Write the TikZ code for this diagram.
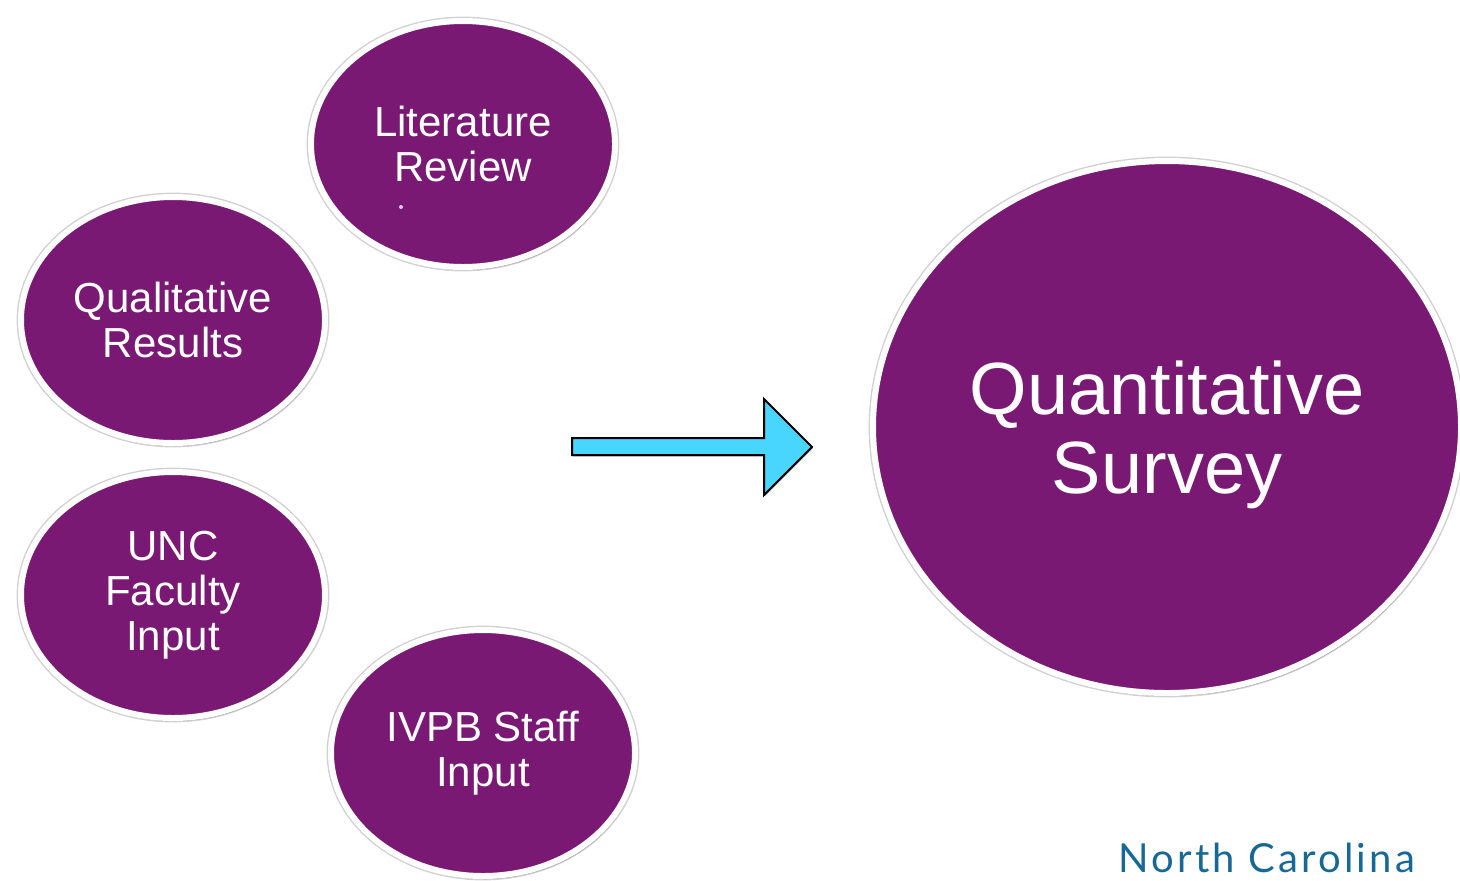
\documentclass[tikz,border=0pt]{standalone}
\usepackage{fontspec}
\setmainfont{Liberation Sans}
\newfontfamily\ncfont[LetterSpace=8]{Lato}
\usetikzlibrary{shapes.geometric,shadows}
\definecolor{bubblepurple}{RGB}{121,25,116}
\definecolor{arrowcyan}{RGB}{72,214,255}
\definecolor{ncblue}{RGB}{24,104,150}

\begin{document}
\begin{tikzpicture}[x=0.5pt,y=-0.5pt,
  bubble/.style={ellipse,fill=bubblepurple,draw=white,line width=3pt,
    preaction={draw=black!18,line width=4.4pt},
    text=white,align=center,inner sep=0pt,
    minimum width=152pt,minimum height=123pt,
    font=\fontsize{21}{22.5}\selectfont,
    drop shadow={shadow xshift=0.8pt,shadow yshift=-1.5pt,opacity=0.3,fill=black}},
  bigbubble/.style={bubble,minimum width=294pt,minimum height=266pt},
  bigtext/.style={text=white,align=center,inner sep=0pt,
    font=\fontsize{37}{39.5}\selectfont}]
% Page size (pixels of the reference)
\useasboundingbox (0,0) rectangle (1460,880);
\clip (0,0) rectangle (1460,880);

% Sources
\node[bubble] (litreview) at (463,144) {Literature\\Review};
\node[bubble] (qualres) at (173,320) {Qualitative\\Results};
\node[bubble] (uncfac) at (173,595) {UNC\\Faculty\\Input};
\node[bubble] (ivpbstaff) at (483,753) {IVPB Staff\\Input};

% stray mark
\fill[white!75!bubblepurple] (401,207) circle (2);

% Block arrow
\draw[fill=arrowcyan,line width=1pt,line join=miter,
  drop shadow={shadow xshift=0.5pt,shadow yshift=-0.8pt,opacity=0.25,fill=black}]
  (572,438) -- (764,438) -- (764,399) -- (812,447) -- (764,495)
  -- (764,455) -- (572,455) -- cycle;

% Target
\node[bigbubble] (quantsurvey) at (1167,427) {};
\node[bigtext] (quantlabel) at ([yshift=-4pt]quantsurvey.center) {Quantitative\\Survey};

% Logo text
\node[anchor=base west,inner sep=0pt,text=ncblue,
  font=\ncfont\fontsize{20}{20}\selectfont] (ncname) at (1118,872) {North Carolina};
\end{tikzpicture}
\end{document}
